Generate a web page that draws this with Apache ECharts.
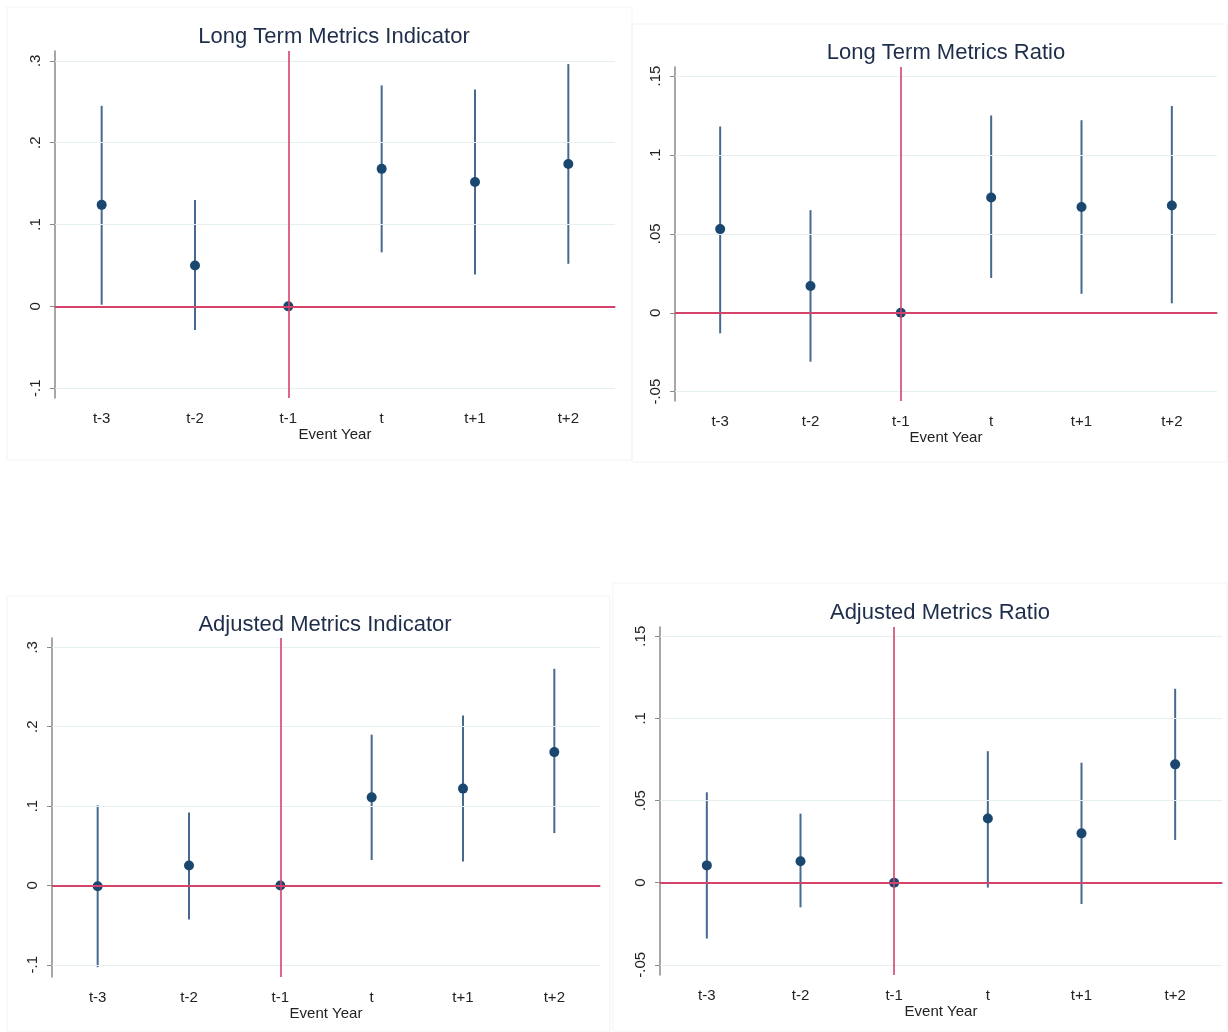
<!DOCTYPE html>
<html>
<head>
<meta charset="utf-8">
<script src="https://cdn.jsdelivr.net/npm/echarts@6/dist/echarts.min.js"></script>
<style>
    html, body { margin: 0; padding: 0; background: #fff; }
    #main { width: 1228px; height: 1032px; }
</style>
</head>
<body>
<div id="main"></div>
<script>
    // event years
    var categories = ['t-3', 't-2', 't-1', 't', 't+1', 't+2'];

    // Long Term Metrics Indicator
    var ltIndEst = [0.124, 0.050, 0, 0.168, 0.152, 0.174];
    var ltIndLo  = [0.002, -0.029, 0, 0.066, 0.039, 0.052];
    var ltIndHi  = [0.245, 0.130, 0, 0.270, 0.265, 0.296];

    // Long Term Metrics Ratio
    var ltRatEst = [0.053, 0.017, 0, 0.073, 0.067, 0.068];
    var ltRatLo  = [-0.013, -0.031, 0, 0.022, 0.012, 0.006];
    var ltRatHi  = [0.118, 0.065, 0, 0.125, 0.122, 0.131];

    // Adjusted Metrics Indicator
    var adjIndEst = [-0.001, 0.025, 0, 0.111, 0.122, 0.168];
    var adjIndLo  = [-0.103, -0.043, 0, 0.032, 0.030, 0.066];
    var adjIndHi  = [0.101, 0.092, 0, 0.190, 0.214, 0.273];

    // Adjusted Metrics Ratio
    var adjRatEst = [0.0105, 0.013, 0, 0.039, 0.030, 0.072];
    var adjRatLo  = [-0.034, -0.015, 0, -0.003, -0.013, 0.026];
    var adjRatHi  = [0.055, 0.042, 0, 0.080, 0.073, 0.118];

    // y tick labels
    var indTicks = [-0.1, 0, 0.1, 0.2, 0.3];
    var ratTicks = [-0.05, 0, 0.05, 0.1, 0.15];

    var titles = ['Long Term Metrics Indicator', 'Long Term Metrics Ratio',
                  'Adjusted Metrics Indicator', 'Adjusted Metrics Ratio'];

    var FONT = 'Arial, "Liberation Sans", sans-serif';
    var NAVY = '#1a476f';
    var SPIKE = '#46698f';
    var RED = '#d4436a';

    // panel layout
    var panels = [
        { grid: {left: 55, top: 51, width: 560, height: 347}, min: -0.112, max: 0.312, ticks: indTicks,
          est: ltIndEst, lo: ltIndLo, hi: ltIndHi, tx: 334, ty: 37, box: [7, 7, 625, 453] },
        { grid: {left: 675, top: 67, width: 542, height: 334}, min: -0.0559, max: 0.1557, ticks: ratTicks,
          est: ltRatEst, lo: ltRatLo, hi: ltRatHi, tx: 946, ty: 53, box: [632, 24, 595, 438] },
        { grid: {left: 52, top: 638, width: 548, height: 339}, min: -0.1154, max: 0.3118, ticks: indTicks,
          est: adjIndEst, lo: adjIndLo, hi: adjIndHi, tx: 325, ty: 625, box: [7, 596, 603, 435] },
        { grid: {left: 660, top: 627, width: 562, height: 348}, min: -0.0562, max: 0.1556, ticks: ratTicks,
          est: adjRatEst, lo: adjRatLo, hi: adjRatHi, tx: 940, ty: 613, box: [613, 583, 614, 448] }
    ];

    function fmtTick(v) {
        if (v === 0) return '0';
        var s = String(+v.toFixed(3));
        return s.replace('0.', '.');
    }

    function spikeItem(params, api) {
        var lo = api.value(1), hi = api.value(2);
        if (lo === hi) return;
        var a = api.coord([api.value(0), lo]);
        var b = api.coord([api.value(0), hi]);
        return {
            type: 'line',
            shape: {x1: a[0], y1: a[1], x2: b[0], y2: b[1]},
            style: {stroke: SPIKE, lineWidth: 2}
        };
    }

    var grids = [], xAxes = [], yAxes = [], series = [], graphics = [];

    panels.forEach(function (p, k) {
        grids.push(p.grid);
        xAxes.push({
            gridIndex: k,
            type: 'category',
            data: categories,
            boundaryGap: true,
            name: 'Event Year',
            nameLocation: 'middle',
            nameGap: 28,
            nameTextStyle: {color: '#222', fontSize: 15, fontFamily: FONT},
            axisLine: {lineStyle: {color: '#8a8a8a', width: 1.5}},
            axisTick: {alignWithLabel: true, length: 5, lineStyle: {color: '#8a8a8a'}},
            axisLabel: {color: '#222', fontSize: 15, fontFamily: FONT, margin: 13},
            splitLine: {show: false}
        });
        yAxes.push({
            gridIndex: k,
            type: 'value',
            min: p.min,
            max: p.max,
            axisLine: {show: true, lineStyle: {color: '#8a8a8a', width: 1.5}},
            axisTick: {show: true, length: 5, customValues: p.ticks, lineStyle: {color: '#8a8a8a'}},
            axisLabel: {color: '#222', fontSize: 15, fontFamily: FONT, rotate: 90, margin: 12,
                        customValues: p.ticks, formatter: fmtTick},
            splitLine: {show: false}
        });

        // gridlines + red reference lines
        var gl = p.ticks.filter(function (t) { return t !== 0; }).map(function (t) {
            return {yAxis: t, lineStyle: {color: '#e6eff1', width: 1.2, type: 'solid'}};
        });
        gl.push({yAxis: 0, lineStyle: {color: RED, width: 1.8, type: 'solid'}});
        gl.push({xAxis: 't-1', lineStyle: {color: RED, width: 1.6, type: 'solid'}});

        series.push({
            type: 'custom',
            xAxisIndex: k,
            yAxisIndex: k,
            renderItem: spikeItem,
            data: categories.map(function (c, i) { return [i, p.lo[i], p.hi[i]]; }),
            z: 3,
            markLine: {
                silent: true,
                symbol: 'none',
                label: {show: false},
                animation: false,
                data: gl
            }
        });
        series.push({
            type: 'scatter',
            xAxisIndex: k,
            yAxisIndex: k,
            symbolSize: 10,
            itemStyle: {color: NAVY, opacity: 1},
            data: categories.map(function (c, i) { return [i, p.est[i]]; }),
            z: 4
        });

        graphics.push({
            type: 'rect',
            shape: {x: p.box[0], y: p.box[1], width: p.box[2], height: p.box[3]},
            style: {fill: 'none', stroke: '#f3f3f3', lineWidth: 1},
            z: -10
        });
        graphics.push({
            type: 'text',
            x: p.tx,
            y: p.ty,
            style: {text: titles[k], fill: '#1e2d4a', fontSize: 22, fontFamily: FONT,
                    textAlign: 'center', textVerticalAlign: 'middle'}
        });
    });

    var chart = echarts.init(document.getElementById('main'));
    chart.setOption({
        animation: false,
        backgroundColor: '#fff',
        grid: grids,
        xAxis: xAxes,
        yAxis: yAxes,
        series: series,
        graphic: graphics
    });
    window.addEventListener('resize', function () {
        chart.resize();
    });
</script>
</body>
</html>
